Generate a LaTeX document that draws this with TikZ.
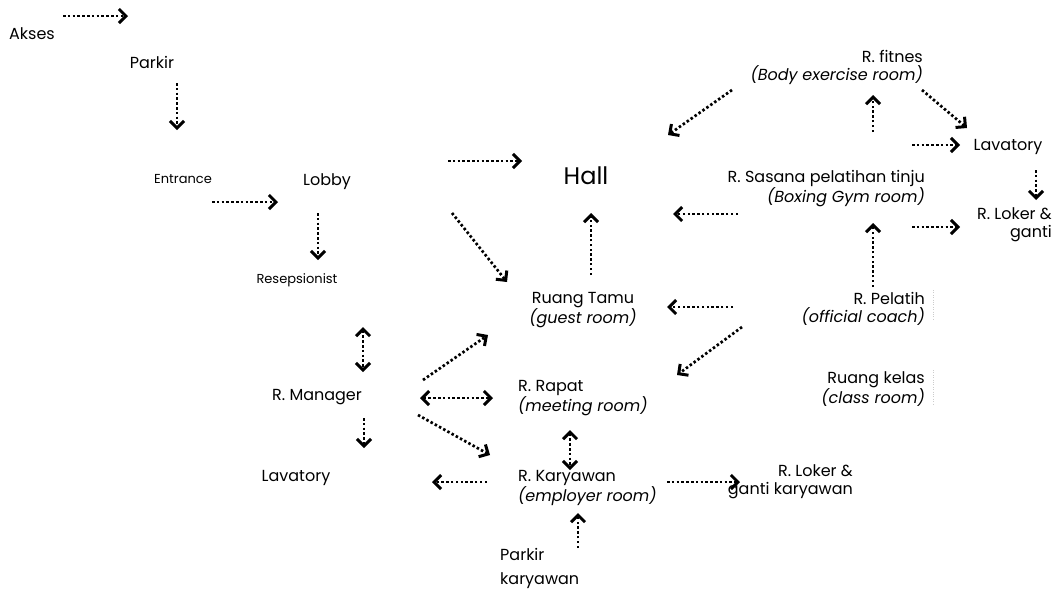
\documentclass[tikz,border=0pt]{standalone}
\usepackage{fontspec}
\setmainfont{Poppins}
\usetikzlibrary{arrows.meta}

\tikzset{
  room/.style={inner sep=0pt, font=\fontsize{16}{18}\selectfont},
  roomsmall/.style={inner sep=0pt, font=\fontsize{13}{15}\selectfont},
  hallroom/.style={inner sep=0pt, font=\fontsize{24}{26}\selectfont},
  barb/.tip={Straight Barb[length=7pt, width=14pt, line width=3pt]},
  flow/.style={line width=2.7pt, dash pattern=on 2.5pt off 2.3pt, -barb},
  flowboth/.style={flow, barb-barb},
}

\begin{document}
\begin{tikzpicture}[x=1pt, y=-1pt]
    \useasboundingbox (0,0) rectangle (1058,595);
    % rooms
    \node[room] (akses) at (32,34) {Akses};
    \node[room] (parkir) at (152,62) {Parkir};
    \node[roomsmall] (entrance) at (183,179) {Entrance};
    \node[room] (lobby) at (327,182) {Lobby};
    \node[roomsmall] (resep) at (297,280) {Resepsionist};
    \node[room] (manager) at (317,397) {R. Manager};
    \node[room] (lavl) at (296,478) {Lavatory};
    \node[hallroom] (hall) at (586,176) {Hall};
    \node[room, align=center] (tamu) at (583,310) {Ruang Tamu\\\textit{(guest room)}};
    \node[room, align=left, anchor=west] (rapat) at (518,398) {R. Rapat\\\textit{(meeting room)}};
    \node[room, align=left, anchor=west] (karyawan) at (518,488) {R. Karyawan\\\textit{(employer room)}};
    \node[room, align=left, anchor=west] (pkaryawan) at (500,568) {Parkir\\[6pt]karyawan};
    \node[room, align=right, anchor=east] (lokerk) at (853,482) {R. Loker \&\\ganti karyawan};
    \node[room, align=right, anchor=east] (pelatih) at (925,309) {R. Pelatih\\\textit{(official coach)}};
    \node[room, align=right, anchor=east] (kelas) at (925,389) {Ruang kelas\\\textit{(class room)}};
    \node[room, align=right, anchor=east] (sasana) at (925,189) {R. Sasana pelatihan tinju\\\textit{(Boxing Gym room)}};
    \node[room, align=right, anchor=east] (fitnes) at (923,67) {R. fitnes\\\textit{(Body exercise room)}};
    \node[room] (lavr) at (1008,147) {Lavatory};
    \node[room, align=right, anchor=east] (loker) at (1052,225) {R. Loker \&\\ganti};

    % main entry
    \draw[flow] ([shift={(31,-18)}]akses.center) -- ([shift={(-24,-46)}]parkir.center);
    \draw[flow] ([shift={(25,21)}]parkir.center) -- ([shift={(-6,-49)}]entrance.center);
    \draw[flow] ([shift={(29,23)}]entrance.center) -- ([shift={(-49,20)}]lobby.center);
    \draw[flow] ([shift={(-9,31)}]lobby.center) -- ([shift={(21,-20)}]resep.center);
    \draw[flowboth] ([shift={(66,47)}]resep.center) -- ([shift={(46,-25)}]manager.center);
    \draw[flow] ([shift={(47,21)}]manager.center) -- ([shift={(68,-30)}]lavl.center);
    \draw[flow] ([shift={(121,-21)}]lobby.center) -- ([shift={(-64,-15)}]hall.center);
    \draw[flow] ([shift={(125,31)}]lobby.center) -- ([shift={(-76,-28)}]tamu.center);
    \draw[flow] ([shift={(8,-35)}]tamu.center) -- ([shift={(5,37)}]hall.center);

    % staff
    \draw[flow] ([shift={(106,-17)}]manager.center) -- ([shift={(-95,25)}]tamu.center);
    \draw[flowboth] ([shift={(103,1)}]manager.center) -- ([shift={(-25,0)}]rapat.west);
    \draw[flow] ([shift={(101,18)}]manager.center) -- ([shift={(-28,-33)}]karyawan.west);
    \draw[flow] ([shift={(-31,-6)}]karyawan.west) -- ([shift={(136,4)}]lavl.center);
    \draw[flowboth] ([shift={(52,32)}]rapat.west) -- ([shift={(52,-18)}]karyawan.west);
    \draw[flow] ([shift={(78,-20)}]pkaryawan.west) -- ([shift={(60,25)}]karyawan.west);
    \draw[flow] ([shift={(149,-6)}]karyawan.west) -- ([shift={(-113,0)}]lokerk.east);

    % boxing
    \draw[flow] ([shift={(-192,-2)}]pelatih.east) -- ([shift={(84,-3)}]tamu.center);
    \draw[flow] ([shift={(-183,18)}]pelatih.east) -- ([shift={(159,-23)}]rapat.west);
    \draw[flow] ([shift={(-187,25)}]sasana.east) -- ([shift={(87,38)}]hall.center);
    \draw[flow] ([shift={(-191,23)}]fitnes.east) -- ([shift={(82,-41)}]hall.center);
    \draw[flow] ([shift={(-52,-57)}]sasana.east) -- ([shift={(-50,28)}]fitnes.east);
    \draw[flow] ([shift={(-1,23)}]fitnes.east) -- ([shift={(-41,-19)}]lavr.center);
    \draw[flow] ([shift={(-13,-44)}]sasana.east) -- ([shift={(-48,-2)}]lavr.center);
    \draw[flow] ([shift={(28,23)}]lavr.center) -- ([shift={(-16,-25)}]loker.east);
    \draw[flow] ([shift={(-13,38)}]sasana.east) -- ([shift={(-92,2)}]loker.east);
    \draw[flow] ([shift={(-52,-22)}]pelatih.east) -- ([shift={(-52,34)}]sasana.east);

    % faint marks
    \draw[gray!40, dotted] ([shift={(8,-19)}]pelatih.east) -- ([shift={(8,11)}]pelatih.east);
    \draw[gray!40, dotted] ([shift={(8,-19)}]kelas.east) -- ([shift={(8,16)}]kelas.east);
\end{tikzpicture}
\end{document}
